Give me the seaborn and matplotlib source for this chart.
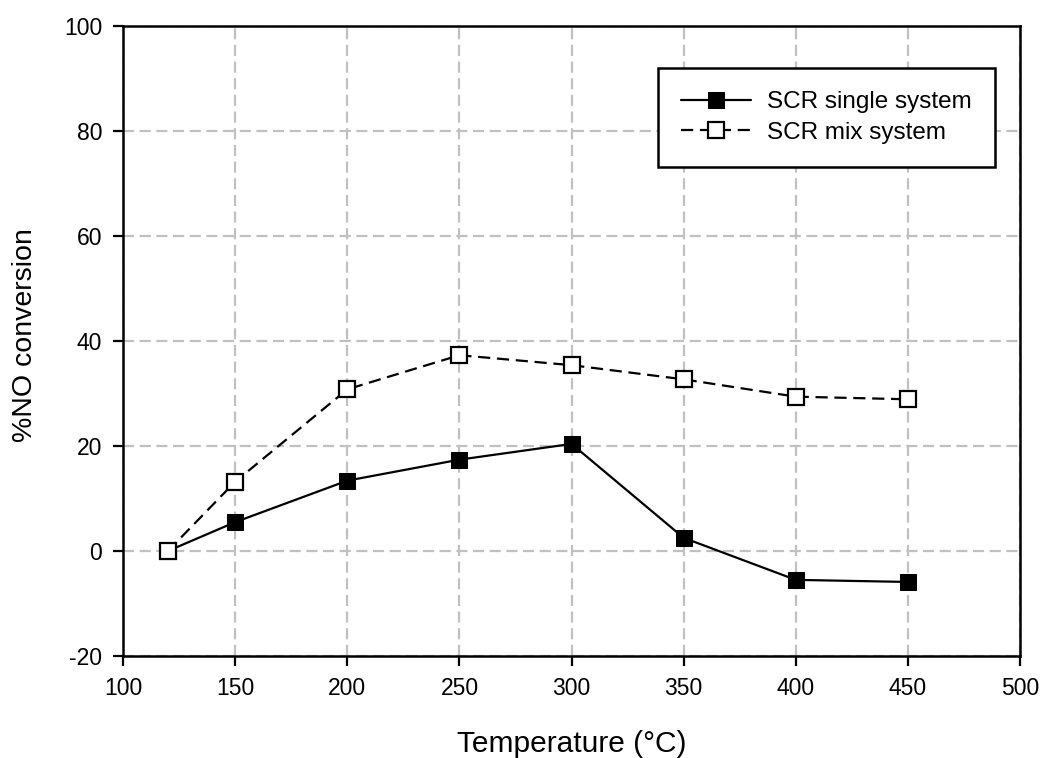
import numpy as np
import pandas as pd
import matplotlib
matplotlib.use("Agg")
import matplotlib.pyplot as plt
import seaborn as sns

temperature = [120, 150, 200, 250, 300, 350, 400, 450]
single_conv = [0.0, 5.5, 13.4, 17.4, 20.4, 2.5, -5.5, -5.9]
mix_conv = [0.0, 13.2, 30.8, 37.3, 35.4, 32.7, 29.4, 28.9]
x_ticks = [100, 150, 200, 250, 300, 350, 400, 450, 500]
y_ticks = [-20, 0, 20, 40, 60, 80, 100]

df_single = pd.DataFrame({"T": temperature, "conv": single_conv})
df_mix = pd.DataFrame({"T": temperature, "conv": mix_conv})

sns.set_style("white")
plt.rcParams["font.family"] = ["Liberation Sans", "DejaVu Sans"]
plt.rcParams["text.color"] = "black"
plt.rcParams["axes.labelcolor"] = "black"
plt.rcParams["axes.unicode_minus"] = False

fig = plt.figure(figsize=(10.43, 7.58), dpi=100)
ax = fig.add_axes([0.118, 0.1346, 0.86, 0.831])

sns.lineplot(data=df_single, x="T", y="conv", ax=ax, color="black",
             linewidth=1.6, marker="s", markersize=12,
             markerfacecolor="black", markeredgecolor="black",
             label="SCR single system")
sns.lineplot(data=df_mix, x="T", y="conv", ax=ax, color="black",
             linewidth=1.6, linestyle=(0, (5.5, 3)), marker="s", markersize=12,
             markerfacecolor="white", markeredgecolor="black",
             markeredgewidth=1.6, label="SCR mix system")

ax.set_xlim(100, 500)
ax.set_ylim(-20, 100)
ax.set_xticks(x_ticks)
ax.set_yticks(y_ticks)
ax.grid(True, color="#c0c0c0", linestyle=(0, (5, 2.5)), linewidth=1.6)
ax.set_axisbelow(True)

for s in ax.spines.values():
    s.set_color("black")
    s.set_linewidth(1.8)

ax.tick_params(axis="both", direction="out", length=7, width=1.6,
               labelsize=16.5, color="black", labelcolor="black",
               bottom=True, left=True, pad=8)
ax.set_xlabel("Temperature (°C)", fontsize=21.5, labelpad=22)
ax.set_ylabel("%NO conversion", fontsize=20.5)
ax.yaxis.set_label_coords(-0.095, 0.51)

leg = ax.legend(loc="upper right", bbox_to_anchor=(0.972, 0.933),
                fontsize=17.5, frameon=True, fancybox=False,
                borderpad=0.95, handlelength=2.9, labelspacing=0.35,
                handletextpad=0.65, borderaxespad=0)
leg.get_frame().set_edgecolor("black")
leg.get_frame().set_linewidth(1.8)
leg.get_frame().set_alpha(1)

plt.savefig("out.png", dpi=100)
